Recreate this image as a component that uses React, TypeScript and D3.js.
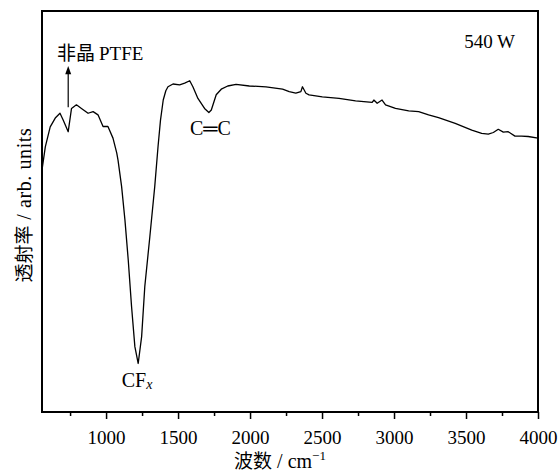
import React, { useEffect, useRef } from 'react';
import * as d3 from 'd3';

// wavenumber (cm^-1)
const waveNumbers = [
  555, 578, 612, 647, 680, 702, 737, 760, 794, 829, 875, 910, 944, 979, 1013, 1048, 1074, 1083, 1108,
  1131, 1154, 1177, 1200, 1223, 1247, 1269, 1304, 1338, 1361, 1378, 1397, 1415, 1430, 1465, 1511, 1546,
  1581, 1603, 1638, 1684, 1714, 1731, 1765, 1800, 1845, 1903, 1995, 2111, 2226, 2272, 2318, 2353, 2364,
  2388, 2410, 2502, 2618, 2733, 2848, 2860, 2883, 2917, 2941, 3010, 3102, 3171, 3240, 3309, 3425, 3540,
  3609, 3655, 3690, 3724, 3759, 3793, 3840, 3886, 3932, 4000,
];
// transmittance, arbitrary units
const transmittance = [
  60.4, 66.1, 71.1, 73.3, 74.5, 72.8, 69.9, 75.7, 76.6, 75.7, 74.5, 74.9, 74.1, 71.2, 71.2, 68.3, 64.6,
  62.8, 56.2, 47.9, 37.9, 26.3, 16.3, 12.1, 18.8, 31.3, 43.7, 56.2, 66.2, 72.8, 77.8, 80.1, 81.1, 81.8,
  81.6, 82.0, 82.6, 81.1, 78.2, 75.7, 74.7, 75.3, 79.1, 80.5, 81.3, 81.7, 81.3, 81.1, 80.5, 79.9, 79.5,
  79.9, 81.1, 79.5, 79.1, 78.6, 78.2, 77.6, 77.2, 77.8, 77.0, 77.8, 76.6, 75.7, 75.1, 74.9, 74.1, 73.4,
  72.0, 70.3, 69.5, 69.3, 69.7, 70.5, 69.8, 69.9, 68.8, 68.8, 68.7, 68.3,
];
const majorTicks = [1000, 1500, 2000, 2500, 3000, 3500, 4000];
const minorTicks = [750, 1250, 1750, 2250, 2750, 3250, 3750];

const serif = '"Liberation Serif", "DejaVu Serif", serif';
const cjk = '"Noto Sans CJK SC", sans-serif';

export default function App() {
  const ref = useRef<SVGSVGElement>(null);

  useEffect(() => {
    const margin = { top: 11, right: 22, bottom: 61, left: 42 },
      width = 560 - margin.left - margin.right,
      height = 473 - margin.top - margin.bottom;

    const root = d3.select(ref.current);
    root.selectAll('*').remove();
    const svg = root.append('g').attr('transform', 'translate(' + margin.left + ',' + margin.top + ')');

    const x = d3.scaleLinear().domain([555, 4000]).range([0, width]);
    const y = d3.scaleLinear().domain([0, 100]).range([height, 0]);

    // minor ticks
    const minor = svg
      .append('g')
      .attr('transform', 'translate(0,' + height + ')')
      .call(d3.axisBottom(x).tickValues(minorTicks).tickSize(4).tickFormat(() => ''));
    minor.select('.domain').remove();
    minor.selectAll('line').attr('stroke-width', 1.5);

    const major = svg
      .append('g')
      .attr('transform', 'translate(0,' + height + ')')
      .call(d3.axisBottom(x).tickValues(majorTicks).tickSize(7).tickFormat(d3.format('d')));
    major.select('.domain').remove();
    major.selectAll('line').attr('stroke-width', 1.5);
    major
      .selectAll('text')
      .attr('y', 32)
      .attr('dy', 0)
      .style('font-family', serif)
      .style('font-size', '19px')
      .attr('fill', '#000');

    svg
      .append('rect')
      .attr('width', width)
      .attr('height', height)
      .attr('fill', 'none')
      .attr('stroke', '#000')
      .attr('stroke-width', 2);

    const pts = waveNumbers.map((w, i) => [w, transmittance[i]] as [number, number]);
    const line = d3
      .line<[number, number]>()
      .x((d) => x(d[0]))
      .y((d) => y(d[1]));

    svg
      .append('path')
      .datum(pts)
      .attr('d', line)
      .attr('fill', 'none')
      .attr('stroke', '#000')
      .attr('stroke-width', 1.3)
      .attr('stroke-linejoin', 'round');

    // arrow for amorphous PTFE
    const ax = x(737);
    svg
      .append('line')
      .attr('x1', ax)
      .attr('x2', ax)
      .attr('y1', y(76))
      .attr('y2', y(84.5))
      .attr('stroke', '#000')
      .attr('stroke-width', 1.2);
    svg
      .append('path')
      .attr('d', `M${ax},${y(86.3)} L${ax - 3},${y(84.2)} L${ax + 3},${y(84.2)} Z`)
      .attr('fill', '#000');

    const lab = svg.append('text').attr('x', 15).attr('y', 49).attr('fill', '#000');
    lab.append('tspan').style('font-family', cjk).style('font-size', '19px').text('非晶');
    lab.append('tspan').attr('dx', 4).style('font-family', serif).style('font-size', '19px').text('PTFE');

    svg
      .append('text')
      .attr('x', x(1725))
      .attr('y', 124)
      .attr('text-anchor', 'middle')
      .style('font-family', serif)
      .style('font-size', '20px')
      .text('C═C');

    const cf = svg
      .append('text')
      .attr('x', x(1215))
      .attr('y', 376)
      .attr('text-anchor', 'middle')
      .style('font-family', serif)
      .style('font-size', '20px');
    cf.append('tspan').text('CF');
    cf.append('tspan').attr('font-style', 'italic').attr('font-size', '14px').attr('dy', 2).text('x');

    svg
      .append('text')
      .attr('x', 473)
      .attr('y', 37)
      .attr('text-anchor', 'end')
      .style('font-family', serif)
      .style('font-size', '19px')
      .text('540 W');

    // axis titles
    const xt = root
      .append('text')
      .attr('x', 280)
      .attr('y', 468)
      .attr('text-anchor', 'middle')
      .attr('fill', '#000');
    xt.append('tspan').style('font-family', cjk).style('font-size', '19px').text('波数');
    xt.append('tspan').style('font-family', serif).style('font-size', '20px').text(' / cm');
    xt.append('tspan').style('font-family', serif).style('font-size', '13px').attr('dy', -8).text('−1');

    const yt = root
      .append('text')
      .attr('transform', 'translate(31,205) rotate(-90)')
      .attr('text-anchor', 'middle')
      .attr('fill', '#000');
    yt.append('tspan').style('font-family', cjk).style('font-size', '19px').text('透射率');
    yt.append('tspan')
      .style('font-family', serif)
      .style('font-size', '20px')
      .style('letter-spacing', '0.6px')
      .text(' / arb. units');
  }, []);

  return (
    <div>
      <svg
        ref={ref}
        width={560}
        height={473}
        style={{ position: 'absolute', left: 0, top: 0, background: '#fff' }}
      ></svg>
    </div>
  );
}
